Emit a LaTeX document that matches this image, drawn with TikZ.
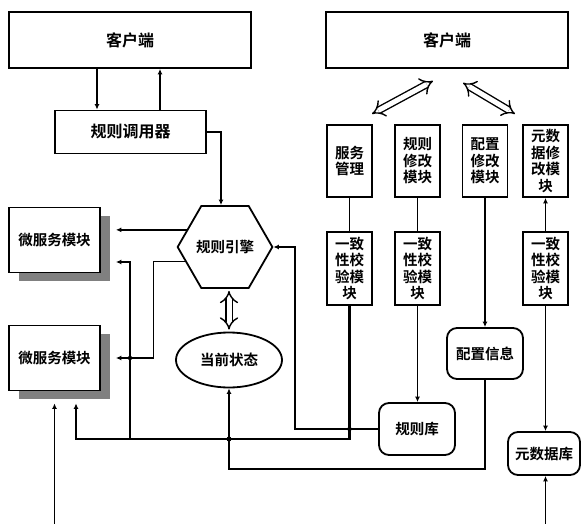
\documentclass[tikz,border=0pt]{standalone}
\usepackage{fontspec}
\newfontfamily\cjk{Noto Sans CJK SC}[BoldFont=* Bold]
\usetikzlibrary{shapes.geometric,arrows.meta,shadows}

\newcommand\bigfont{\cjk\bfseries\fontsize{16}{18}\selectfont}
\newcommand\smallfont{\cjk\bfseries\fontsize{14.5}{16.5}\selectfont}

\tikzset{
  box/.style={draw, line width=1.8pt, fill=white, inner sep=0pt, font=\bigfont},
  msbox/.style={box, minimum width=91pt, minimum height=65pt, font=\smallfont,
    drop shadow={shadow xshift=10pt, shadow yshift=-8pt, fill=gray, opacity=1}},
  col/.style={draw, line width=1.8pt, fill=white, minimum width=45pt, minimum height=72pt,
    inner sep=0pt, align=center, font=\smallfont},
  store/.style={draw, line width=1.8pt, fill=white, rounded corners=10pt, inner sep=0pt, font=\smallfont},
  hexa/.style={draw, line width=1.8pt, regular polygon, regular polygon sides=6,
    minimum size=86pt, inner sep=0pt, font=\smallfont},
  arr/.style={-{Latex[length=5.5pt,width=5pt]}},
  hollow/.style={double, double distance=5pt, line width=1.4pt,
    {Implies[length=9pt,width=18pt]}-{Implies[length=9pt,width=18pt]}}
}

\begin{document}
\begin{tikzpicture}[x=1pt, y=-1pt, line width=1.4pt]
  \useasboundingbox (0,0) rectangle (581,524);

  % Clients and caller
  \node[box, minimum width=242pt, minimum height=56pt] (cl1) at (130,40) {客户端};
  \node[box, minimum width=242pt, minimum height=56pt] (cl2) at (447,40) {客户端};
  \node[box, minimum width=151pt, minimum height=43pt] (caller) at (130.5,132) {规则调用器};

  % Micro services
  \node[msbox] (ms1) at (54.5,240) {微服务模块};
  \node[msbox] (ms2) at (54.5,358) {微服务模块};

  % Engine and state
  \node[hexa] (eng) at (225,247) {规则引擎};
  \node[draw, ellipse, line width=1.8pt, minimum width=106pt, minimum height=55pt,
    inner sep=0pt, font=\smallfont] (state) at (229,360) {当前状态};

  % Modules on the right
  \node[col] (svc) at (349.5,161) {服务\\管理};
  \node[col] (rmod) at (417.5,161) {规则\\修改\\模块};
  \node[col] (cmod) at (485,161) {配置\\修改\\模块};
  \node[col] (mmod) at (545.5,161) {元数\\据修\\改模\\块};
  \node[col, minimum height=73pt] (chk1) at (349.5,268.5) {一致\\性校\\验模\\块};
  \node[col, minimum height=73pt] (chk2) at (417.5,268.5) {一致\\性校\\验模\\块};
  \node[col, minimum height=73pt] (chk3) at (545.5,268.5) {一致\\性校\\验模\\块};

  % Stores
  \node[store, minimum width=76pt, minimum height=51pt] (cinfo) at (485,353.5) {配置信息};
  \node[store, minimum width=76pt, minimum height=52pt] (rlib) at (417,429) {规则库};
  \node[store, minimum width=72pt, minimum height=43pt] (mlib) at (544,453.5) {元数据库};

  \coordinate (bus) at (76,439);
  \coordinate (j1) at (130,439);
  \coordinate (j2) at (state.south |- bus);
  \coordinate (inL) at (54.5,524);
  \coordinate (inR) at (545.5,524);

  % Client <-> caller -> engine
  \draw[arr] ([xshift=-33pt]cl1.south) -- ([xshift=-33pt]cl1.south |- caller.north);
  \draw[arr] ([xshift=30pt]cl1.south |- caller.north) -- ([xshift=30pt]cl1.south);
  \draw[arr] (caller.east) -| ([xshift=-4pt]eng.north);

  % Engine -> services
  \draw[arr] (eng.156) -- ([xshift=15pt]ms1.east |- eng.156);
  \draw[arr] (eng.200) -- ++(-31.5pt,0) |- ([xshift=15pt]ms2.east);
  \draw[hollow] ([yshift=-2pt]eng.south -| state.north) -- ([yshift=2pt]state.north);

  % Bus from the first check
  \draw[arr, line width=2.2pt] (chk1.south) |- (bus) -- ([xshift=21.5pt,yshift=-12pt]ms2.south);
  \draw[arr] (j1) |- ([xshift=15pt,yshift=-22pt]ms1.east);
  \draw[arr] (j2) -- (state.south);
  \draw (cinfo.south) |- ([yshift=-80.5pt]state.south) -- (j2);
  \fill (j1 |- ms2.east) circle (2.2pt);
  \fill (j2) circle (2.5pt);

  % Rule store back to engine
  \draw[arr] (rlib.west) -- ++(-83pt,0) |- (eng.east);
  \fill (chk1.south |- rlib.west) circle (2.2pt);

  % Module chains
  \draw (svc.south) -- (chk1.north);
  \draw (rmod.south) -- (chk2.north);
  \draw[arr] (chk2.south) -- (chk2.south |- rlib.north);
  \draw[arr] (cmod.south) -- (cinfo.north);
  \draw[arr] (chk3.north) -- (mmod.south);
  \draw[arr] (chk3.south) -- (chk3.south |- mlib.north);

  % Inputs from below
  \draw[arr] (inL) -- ([yshift=-12pt]ms2.south);
  \draw[arr] (inR) -- (inR |- mlib.south);

  % Client 2 <-> modules
  \draw[hollow] ([xshift=-14pt,yshift=-12pt]cl2.south) -- ([xshift=-75pt,yshift=-45pt]cl2.south);
  \draw[hollow] ([xshift=16pt,yshift=-14pt]cl2.south) -- ([xshift=68pt,yshift=-45pt]cl2.south);
\end{tikzpicture}
\end{document}
